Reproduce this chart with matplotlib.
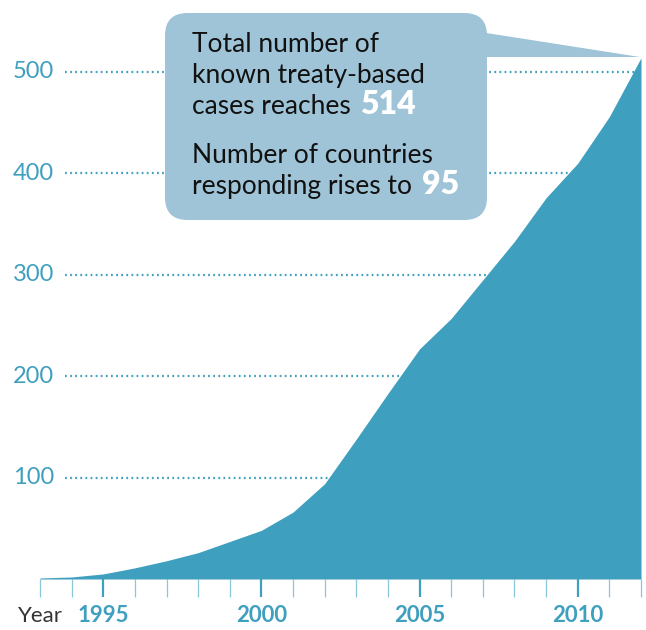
import numpy as np
import matplotlib.pyplot as plt
from matplotlib.patches import FancyBboxPatch, Polygon
from matplotlib.text import Annotation

plt.rcParams['font.family'] = ['Lato', 'DejaVu Sans']

# Número de casos conocidos (acumulado) por año
years = [1993, 1994, 1995, 1996, 1997, 1998, 1999, 2000, 2001, 2002,
         2003, 2004, 2005, 2006, 2007, 2008, 2009, 2010, 2011, 2012]
cases = [1, 2, 5, 11, 18, 26, 37, 48, 66, 94,
         138, 183, 227, 257, 295, 333, 376, 410, 456, 514]
y_ticks = [100, 200, 300, 400, 500]
x_labels = [1995, 2000, 2005, 2010]
total_cases = 514
countries = 95

teal = '#3f9fbf'
box_col = '#9fc4d7'
W, H = 646, 630

fig = plt.figure(figsize=(W / 100, H / 100), dpi=100)
ax = fig.add_axes([40 / W, (H - 579) / H, 601 / W, 579 / H])
ax.set_xlim(1993, 2012)
ax.set_ylim(0, 571)

# lineas punteadas de referencia
ax.hlines(y_ticks, 25 / 601, 1, transform=ax.get_yaxis_transform(),
          colors=teal, linestyles=(0, (0.8, 1.5)), linewidth=1.6, zorder=1)
ax.fill_between(years, 0, cases, color=teal, linewidth=0, zorder=2)

for v in y_ticks:
    ax.text(14 / 601, v, str(v), transform=ax.get_yaxis_transform(),
            ha='right', va='center', color=teal, fontsize=17)

for s in ax.spines.values():
    s.set_visible(False)
ax.set_yticks([])
ax.set_xticks(x_labels)
ax.set_xticklabels([str(x) for x in x_labels], fontweight='bold', fontsize=16, color=teal)
ax.set_xticks(years, minor=True)
ax.tick_params(axis='x', which='major', length=13, width=1.6, color=teal, pad=6)
ax.tick_params(axis='x', which='minor', length=13, width=0.9, color='#8cc6d9')
fig.text(18 / W, 1 - 616 / H, 'Year', ha='left', va='center', fontsize=16, color='#333333')

# recuadro con el texto
box = FancyBboxPatch((165 / W, 1 - 220 / H), 322 / W, 207 / H,
                     boxstyle='round,pad=0,rounding_size=0.035',
                     transform=fig.transFigure, facecolor=box_col, edgecolor='none',
                     mutation_aspect=W / H, zorder=5)
fig.patches.append(box)
tri = Polygon([(480 / W, 1 - 32 / H), (480 / W, 1 - 57 / H), (640 / W, 1 - 57 / H)],
              closed=True, transform=fig.transFigure, facecolor=box_col,
              edgecolor='none', zorder=5)
fig.patches.append(tri)

fs = 19
lines1 = ['Total number of', 'known treaty-based', 'cases reaches ']
lines2 = ['Number of countries', 'responding rises to ']
for lines, y0, num in [(lines1, 52, total_cases), (lines2, 163, countries)]:
    t = None
    for i, s in enumerate(lines):
        t = fig.text(192 / W, 1 - (y0 + 31 * i) / H, s, fontsize=fs,
                     va='baseline', color='#111111', zorder=6)
    a = Annotation(str(num), xy=(1, 0), xycoords=t, xytext=(2, 0),
                   textcoords='offset points', va='bottom', ha='left',
                   fontsize=fs + 4, fontweight='heavy', color='white', zorder=7)
    fig.add_artist(a)

plt.savefig('out.png', dpi=100)
